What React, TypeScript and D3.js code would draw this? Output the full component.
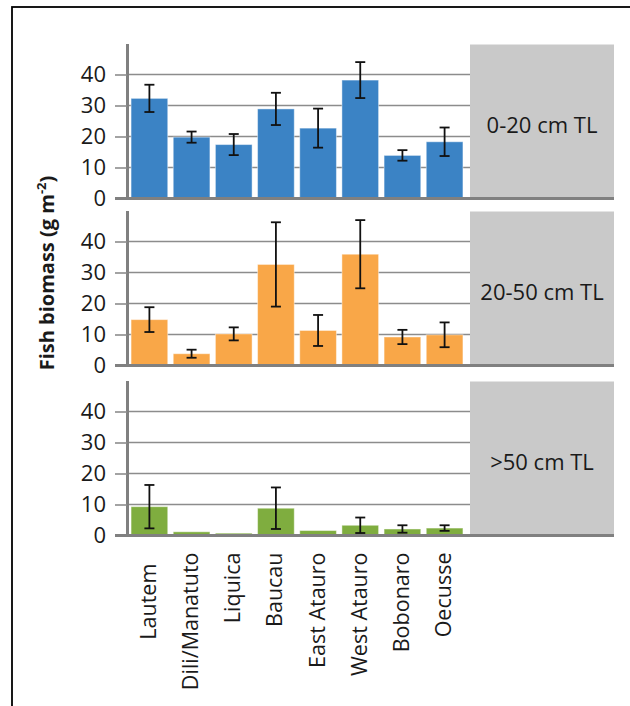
import React, { useEffect, useRef } from 'react';
import * as d3 from 'd3';

// site names along the bottom (Lautem carries trailing spaces in the source labels)
const sites = ['Lautem\u00A0\u00A0', 'Dili/Manatuto', 'Liquica', 'Baucau', 'East Atauro', 'West Atauro', 'Bobonaro', 'Oecusse'];
const sizeClasses = ['0-20 cm TL', '20-50 cm TL', '>50 cm TL'];
const yTicks = [0, 10, 20, 30, 40];

// mean biomass and standard error per site, one pair of arrays per size class
const biomassSmall = [32.3, 19.8, 17.4, 28.9, 22.7, 38.2, 13.9, 18.3];
const seSmall = [4.4, 1.8, 3.4, 5.2, 6.3, 5.8, 1.7, 4.6];
const biomassMedium = [14.8, 3.8, 10.2, 32.6, 11.3, 35.9, 9.2, 9.9];
const seMedium = [4.0, 1.3, 2.1, 13.6, 5.0, 11.0, 2.3, 4.0];
const biomassLarge = [9.3, 1.2, 0.75, 8.8, 1.6, 3.3, 2.1, 2.4];
const seLarge = [7.0, 0, 0, 6.7, 0, 2.5, 1.2, 0.9];

const colors = ['#3b83c5', '#f9a748', '#7fad3f'];

const App = () => {
  const svgRef = useRef<SVGSVGElement | null>(null);

  useEffect(() => {
    const svg = d3.select(svgRef.current);
    svg.selectAll('*').remove();

    const font = "'Open Sans', sans-serif";
    const panels = [
      { label: sizeClasses[0], mean: biomassSmall, se: seSmall, color: colors[0] },
      { label: sizeClasses[1], mean: biomassMedium, se: seMedium, color: colors[1] },
      { label: sizeClasses[2], mean: biomassLarge, se: seLarge, color: colors[2] },
    ];

    const axisX = 127;
    const boxLeft = 470;
    const boxRight = 614;
    const panelTops = [43.5, 210.5, 380.5];
    const panelH = 155;

    const x = d3.scaleBand<string>()
      .domain(sites)
      .range([126, 468])
      .paddingInner(0.13)
      .paddingOuter(0.12);

    // outer frame
    svg.append('rect')
      .attr('x', 12).attr('y', 7)
      .attr('width', 700).attr('height', 800)
      .attr('fill', 'none')
      .attr('stroke', '#000')
      .attr('stroke-width', 1.8);

    panels.forEach((p, i) => {
      const top = panelTops[i];
      const bottom = top + panelH;
      const y = d3.scaleLinear().domain([0, 50]).range([bottom, top]);
      const g = svg.append('g');

      // grey strip label
      g.append('rect')
        .attr('x', boxLeft).attr('y', top + 1)
        .attr('width', boxRight - boxLeft).attr('height', bottom - top - 1)
        .attr('fill', '#c9c9c9');
      g.append('text')
        .attr('x', (boxLeft + boxRight) / 2)
        .attr('y', (top + bottom) / 2 + 4)
        .attr('dy', '0.35em')
        .attr('text-anchor', 'middle')
        .attr('font-family', font)
        .attr('font-size', 22)
        .attr('fill', '#1a1a1a')
        .text(p.label);

      // gridlines
      g.selectAll('.grid')
        .data(yTicks.filter(t => t > 0))
        .join('line')
        .attr('class', 'grid')
        .attr('x1', axisX).attr('x2', boxLeft)
        .attr('y1', d => y(d)).attr('y2', d => y(d))
        .attr('stroke', '#8c8c8c')
        .attr('stroke-width', 1.6);

      // bars
      g.selectAll('.bar')
        .data(p.mean)
        .join('rect')
        .attr('class', 'bar')
        .attr('x', (d, j) => x(sites[j])!)
        .attr('y', d => y(d))
        .attr('width', x.bandwidth())
        .attr('height', d => y(0) - y(d))
        .attr('fill', p.color)
        .attr('stroke', 'rgba(255,255,255,0.45)')
        .attr('stroke-width', 1);

      // error bars
      const errs = p.mean.map((m, j) => ({ m, s: p.se[j], cx: x(sites[j])! + x.bandwidth() / 2 })).filter(e => e.s > 0);
      const eg = g.selectAll('.err').data(errs).join('g').attr('class', 'err')
        .attr('stroke', '#111').attr('stroke-width', 1.8);
      eg.append('line')
        .attr('x1', d => d.cx).attr('x2', d => d.cx)
        .attr('y1', d => y(d.m + d.s)).attr('y2', d => y(d.m - d.s));
      eg.append('line')
        .attr('x1', d => d.cx - 5).attr('x2', d => d.cx + 5)
        .attr('y1', d => y(d.m + d.s)).attr('y2', d => y(d.m + d.s));
      eg.append('line')
        .attr('x1', d => d.cx - 5).attr('x2', d => d.cx + 5)
        .attr('y1', d => y(d.m - d.s)).attr('y2', d => y(d.m - d.s));

      // y axis with outward ticks
      const yAxis = d3.axisLeft(y).tickValues(yTicks).tickSizeInner(12).tickSizeOuter(0).tickPadding(9);
      const ag = g.append('g')
        .attr('transform', `translate(${axisX},0)`)
        .call(yAxis);
      ag.select('.domain').attr('stroke', '#808080').attr('stroke-width', 3);
      ag.selectAll('.tick line').attr('stroke', '#8c8c8c').attr('stroke-width', 1.6);
      ag.selectAll('.tick text')
        .attr('font-family', font)
        .attr('font-size', 22)
        .attr('fill', '#1a1a1a');

      // zero line running under the grey strip
      g.append('line')
        .attr('x1', axisX - 12).attr('x2', boxRight)
        .attr('y1', y(0)).attr('y2', y(0))
        .attr('stroke', '#808080')
        .attr('stroke-width', 3);

      if (i === panels.length - 1) {
        g.selectAll('.site')
          .data(sites)
          .join('text')
          .attr('class', 'site')
          .attr('transform', d => `translate(${x(d)! + x.bandwidth() / 2},${y(0) + 17}) rotate(-90)`)
          .attr('dy', '0.3em')
          .attr('text-anchor', 'end')
          .attr('font-family', font)
          .attr('font-size', 21.5)
          .attr('fill', '#1a1a1a')
          .text(d => d);
      }
    });

    // y axis title
    const title = svg.append('text')
      .attr('transform', 'translate(54,273) rotate(-90)')
      .attr('text-anchor', 'middle')
      .attr('font-family', font)
      .attr('font-size', 20)
      .attr('font-weight', 700)
      .attr('fill', '#1a1a1a');
    title.append('tspan').text('Fish biomass (g m');
    title.append('tspan').attr('font-size', 13).attr('dy', -8).text('-2');
    title.append('tspan').attr('dy', 8).text(')');
  }, []);

  return (
    <svg
      ref={svgRef}
      width={630}
      height={706}
      style={{ position: 'absolute', left: 0, top: 0, background: '#fff' }}
    />
  );
};

export default App;
